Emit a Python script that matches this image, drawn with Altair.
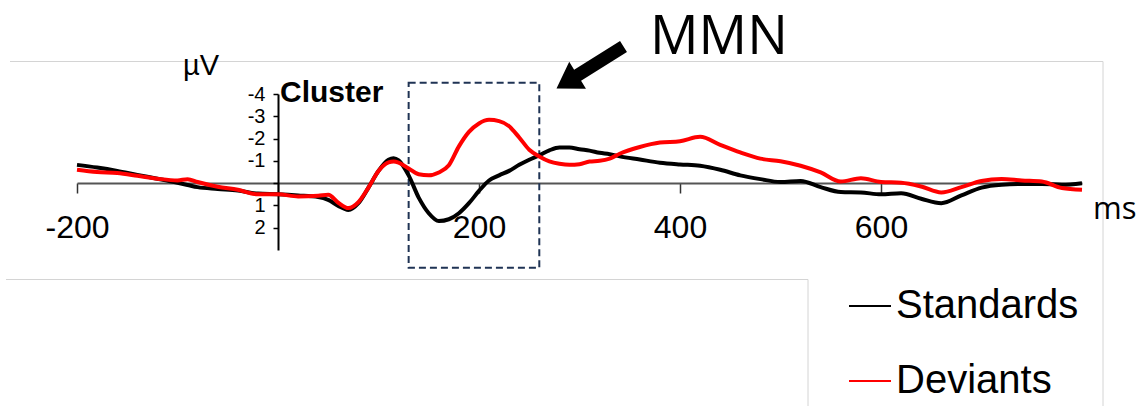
import altair as alt
import pandas as pd

# ---- data ----
time_ms = [-200, -180, -160, -140, -120, -100, -90, -80, -60, -40,
           -20, 0, 20, 40, 50, 60, 70, 80, 90, 100,
           110, 115, 120, 130, 140, 150, 160, 170, 180, 190,
           200, 210, 220, 230, 240, 250, 260, 270, 280, 290,
           300, 310, 320, 330, 340, 360, 380, 400, 420, 440,
           460, 480, 500, 520, 540, 560, 580, 600, 620, 640,
           660, 680, 700, 720, 740, 760, 780, 800]
standards_uv = [-0.82, -0.70, -0.55, -0.37, -0.20, -0.02, 0.08, 0.18, 0.26, 0.33,
                0.47, 0.50, 0.55, 0.62, 0.75, 1.02, 1.20, 0.90, 0.20, -0.55,
                -1.05, -1.12, -1.02, -0.35, 0.65, 1.35, 1.70, 1.62, 1.35, 0.90,
                0.35, -0.12, -0.35, -0.55, -0.82, -1.05, -1.25, -1.47, -1.60, -1.60,
                -1.52, -1.46, -1.36, -1.30, -1.20, -1.06, -0.92, -0.84, -0.78, -0.60,
                -0.35, -0.18, -0.05, -0.10, 0.18, 0.40, 0.42, 0.50, 0.45, 0.70,
                0.90, 0.55, 0.20, 0.07, 0.04, 0.04, 0.07, 0.00]
deviants_uv = [-0.60, -0.50, -0.45, -0.33, -0.20, -0.12, -0.18, -0.05, 0.16, 0.30,
               0.50, 0.50, 0.60, 0.57, 0.52, 0.88, 1.12, 0.85, 0.20, -0.55,
               -0.93, -0.97, -0.92, -0.66, -0.40, -0.35, -0.48, -0.80, -1.65, -2.30,
               -2.68, -2.84, -2.78, -2.55, -2.05, -1.50, -1.20, -0.98, -0.87, -0.82,
               -0.85, -0.97, -1.00, -1.10, -1.32, -1.62, -1.82, -1.88, -2.08, -1.72,
               -1.38, -1.10, -0.98, -0.78, -0.48, -0.07, -0.22, -0.05, -0.02, 0.15,
               0.42, 0.18, -0.10, -0.19, -0.12, -0.07, 0.22, 0.30]
series_names = ["Standards", "Deviants"]
series_colors = ["#000000", "#ff0000"]
x_ticks = [-200, 0, 200, 400, 600]
y_ticks = [-4, -3, -2, -1, 0, 1, 2]
window_ms = [130, 260]  # highlighted cluster window

n = len(time_ms)
df = pd.DataFrame({
    "t": time_ms * 2,
    "v": standards_uv + deviants_uv,
    "s": [series_names[0]] * n + [series_names[1]] * n,
})
one = pd.DataFrame({"a": [0]})

# ---- layout (pixels) ----
L, T, W, H = 77, 94, 1005, 156
def px(x):
    return x - L
def py(y):
    return y - T

x_scale = alt.Scale(domain=[-200, 800], nice=False, zero=False)
y_scale = alt.Scale(domain=[-4, 3], reverse=True, nice=False, zero=False)

x_axis = alt.Axis(
    values=x_ticks, labelExpr="datum.value == 0 ? '' : '' + datum.value",
    title=None, offset=-67, domainColor="#555555", domainWidth=2,
    tickColor="#333333", tickSize=10, tickWidth=1.5,
    labelFontSize=32, labelFont="Liberation Sans", labelColor="black",
    labelPadding=19, grid=False, labelFlush=False, labelOverlap=False)
y_axis = alt.Axis(
    values=y_ticks, labelExpr="datum.value == 0 ? '' : '' + datum.value",
    title=None, offset=-201, domainColor="black", domainWidth=2,
    tickColor="black", tickSize=5, tickWidth=1.5,
    labelFontSize=20, labelFont="Liberation Sans", labelColor="black",
    labelPadding=8, grid=False, labelFlush=False, labelOverlap=False,
    labelSeparation=0, labelBound=False)

lines = alt.Chart(df).mark_line(strokeWidth=4, interpolate="monotone").encode(
    x=alt.X("t:Q", scale=x_scale, axis=x_axis),
    y=alt.Y("v:Q", scale=y_scale, axis=y_axis),
    color=alt.Color("s:N", scale=alt.Scale(domain=series_names, range=series_colors),
                    legend=alt.Legend(title=None, orient="none", legendX=771, legendY=190,
                                      symbolType="stroke", symbolSize=1764, symbolStrokeWidth=2,
                                      labelFontSize=40, labelFont="Liberation Sans",
                                      labelColor="black", rowPadding=33, labelOffset=4,
                                      padding=0, labelLimit=500)),
)

def hrule(y, x1, x2):
    return alt.Chart(one).mark_rule(color="#d4d4d4", strokeWidth=1).encode(
        x=alt.value(px(x1)), x2=alt.value(px(x2)), y=alt.value(py(y)), y2=alt.value(py(y)))

def vrule(x, y1, y2):
    return alt.Chart(one).mark_rule(color="#d4d4d4", strokeWidth=1).encode(
        x=alt.value(px(x)), x2=alt.value(px(x)), y=alt.value(py(y1)), y2=alt.value(py(y2)))

frame = [hrule(61.5, 10, 1103), vrule(1103, 61.5, 406), hrule(279.5, 6, 808), vrule(808, 279.5, 406)]

box = alt.Chart(one).mark_rect(fillOpacity=0, stroke="#1f3354", strokeWidth=2, strokeDash=[7, 4]).encode(
    x=alt.XDatum(window_ms[0], scale=x_scale, axis=x_axis), x2=alt.X2Datum(window_ms[1]),
    y=alt.YDatum(-4.5, scale=y_scale, axis=y_axis), y2=alt.Y2Datum(3.8))

def label(txt, x, y, size, font="Liberation Sans", weight="normal"):
    return alt.Chart(one).mark_text(text=txt, align="left", baseline="alphabetic",
                                    fontSize=size, font=font, fontWeight=weight, color="black").encode(
        x=alt.value(px(x)), y=alt.value(py(y)))

texts = [
    label("MMN", 650, 54, 54, font="Open Sans"),
    label("ms", 1093, 219, 31, font="Open Sans"),
    label("µV", 183, 75, 29),
    label("Cluster", 280, 102, 30, weight="bold"),
]

arrow_path = "M-1,-0.165 L0.37,-0.165 L0.37,-0.4 L1,0 L0.37,0.4 L0.37,0.165 L-1,0.165 Z"
arrow = alt.Chart(one).mark_point(shape=arrow_path, size=6241, angle=148, filled=True,
                                  color="black", opacity=1, strokeWidth=0).encode(
    x=alt.value(px(590)), y=alt.value(py(67.5)))

chart = alt.layer(*frame, box, lines, *texts, arrow).properties(
    width=W, height=H,
    padding={"left": L, "top": T, "right": 1143 - L - W, "bottom": 406 - T - H},
    autosize=alt.AutoSizeParams(type="none"),
).configure_view(stroke=None)

chart.save("out.html", embed_options={"renderer": "svg", "actions": False})
